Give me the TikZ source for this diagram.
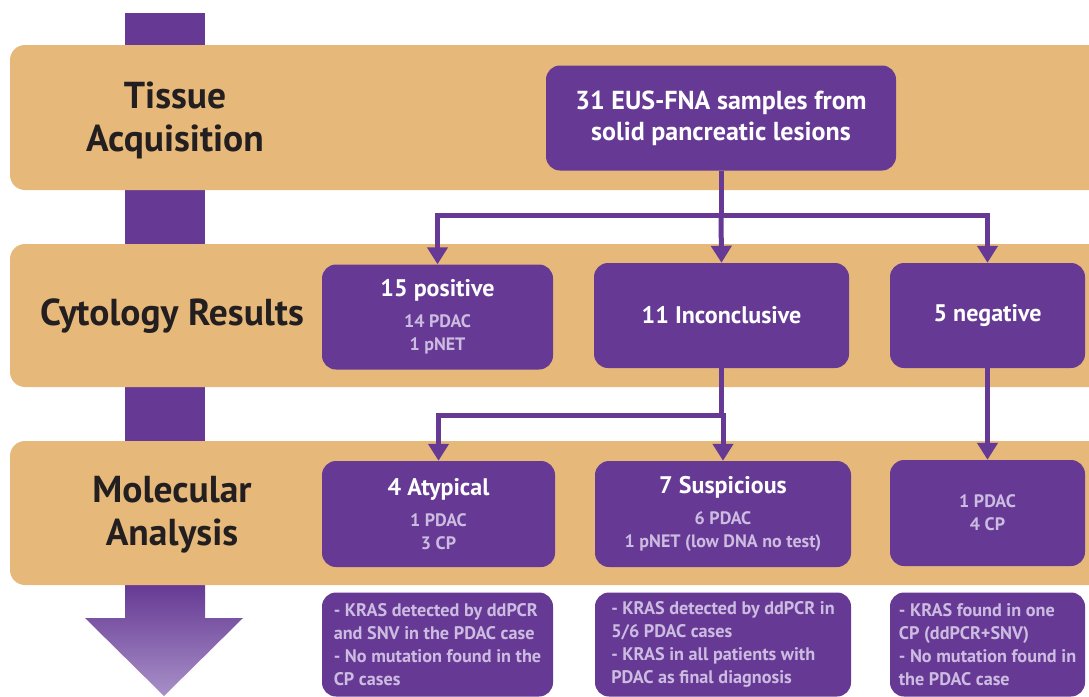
\documentclass[tikz,border=0pt]{standalone}
\usepackage{fontspec}
\setmainfont{PT Sans}
\usetikzlibrary{arrows.meta}
\definecolor{purp}{RGB}{102,58,148}
\definecolor{tanc}{RGB}{230,184,122}
\definecolor{lav}{RGB}{205,188,225}
\definecolor{ink}{RGB}{35,31,32}
\definecolor{lightp}{RGB}{168,144,200}
\tikzset{
  band/.style={fill=tanc, rounded corners=15pt},
  bandlbl/.style={text=ink, font=\fontsize{37.5}{43}\selectfont\bfseries, align=center, inner sep=0pt},
  pbox/.style={fill=purp, rounded corners=14pt, align=center, inner sep=0pt, text=lav,
    font=\fontsize{18}{23}\selectfont\bfseries},
  nbox/.style={fill=purp, rounded corners=14pt, align=left, inner sep=0pt, text=lav,
    font=\fontsize{18.2}{23}\selectfont\bfseries},
  conn/.style={draw=purp, line width=5pt, -{Triangle[width=20pt,length=17pt]}},
  seg/.style={draw=purp, line width=5pt},
}
\newcommand{\ttl}[1]{\textcolor{white}{\fontsize{24}{28}\selectfont #1}}
\begin{document}
\begin{tikzpicture}[x=1pt,y=-1pt]
\useasboundingbox (0,0) rectangle (1089,696);
% big vertical arrow
\fill[purp] (125,13) rectangle (205,600);
\shade[top color=purp, bottom color=lightp] (125,585) -- (205,585) -- (205,618) -- (243,618) -- (164,696) -- (85,618) -- (125,618) -- cycle;
% bands
\fill[band] (10,45) rectangle (1110,190);
\fill[band] (10,244) rectangle (1110,387);
\fill[band] (10,441) rectangle (1110,585);
% band labels
\node[bandlbl] (l1) at (175,120) {Tissue\\Acquisition};
\node[bandlbl] (l2) at (172,316) {Cytology Results};
\node[bandlbl] (l3) at (172,515) {Molecular\\Analysis};
% boxes
\node[pbox, minimum width=350pt, minimum height=105pt, text=white, font=\fontsize{26}{31}\selectfont\bfseries] (top) at (721,118) {\raisebox{-3pt}{31 EUS-FNA samples from}\\\raisebox{-3pt}{solid pancreatic lesions}};
\node[pbox, minimum width=231pt, minimum height=105pt] (pos) at (437.5,317) {\ttl{15 positive}\\[8pt]14 PDAC\\1 pNET};
\node[pbox, minimum width=255pt, minimum height=105pt] (inc) at (721.5,315.5) {\ttl{11 Inconclusive}};
\node[pbox, minimum width=195pt, minimum height=105pt] (neg) at (987.5,315.5) {\ttl{5 negative}};
\node[pbox, minimum width=233pt, minimum height=106pt] (aty) at (438.5,514) {\ttl{4 Atypical}\\[8pt]1 PDAC\\3 CP};
\node[pbox, minimum width=256pt, minimum height=106pt] (sus) at (723,514) {\ttl{7 Suspicious}\\[8pt]6 PDAC\\1 pNET (low DNA no test)};
\node[pbox, minimum width=195pt, minimum height=106pt] (pd) at (987.5,513) {1 PDAC\\4 CP};
% notes
\node[nbox, minimum width=231pt, minimum height=104pt] (n1) at (437.5,644.5) {- KRAS detected by ddPCR\\and SNV in the PDAC case\\- No mutation found in the\\CP cases};
\node[nbox, minimum width=256pt, minimum height=104pt] (n2) at (723,644.5) {- KRAS detected by ddPCR in\\5/6 PDAC cases\\- KRAS in all patients with\\PDAC as final diagnosis};
\node[nbox, minimum width=195pt, minimum height=104pt] (n3) at (987.5,644.5) {- KRAS found in one\\CP (ddPCR+SNV)\\- No mutation found in\\the PDAC case};
% connectors
\coordinate (j1) at (721,215);
\draw[seg] (top.south) -- (j1);
\draw[conn] (j1) -| (pos.north);
\draw[conn] (j1) -| (neg.north);
\draw[conn] (j1) -- (inc.north);
\coordinate (j2) at (721.5,415);
\draw[seg] (inc.south) -- (j2);
\draw[conn] (j2) -| (aty.north);
\draw[conn] (j2) -| (sus.north);
\draw[conn] (neg.south) -- (pd.north);
\end{tikzpicture}
\end{document}
